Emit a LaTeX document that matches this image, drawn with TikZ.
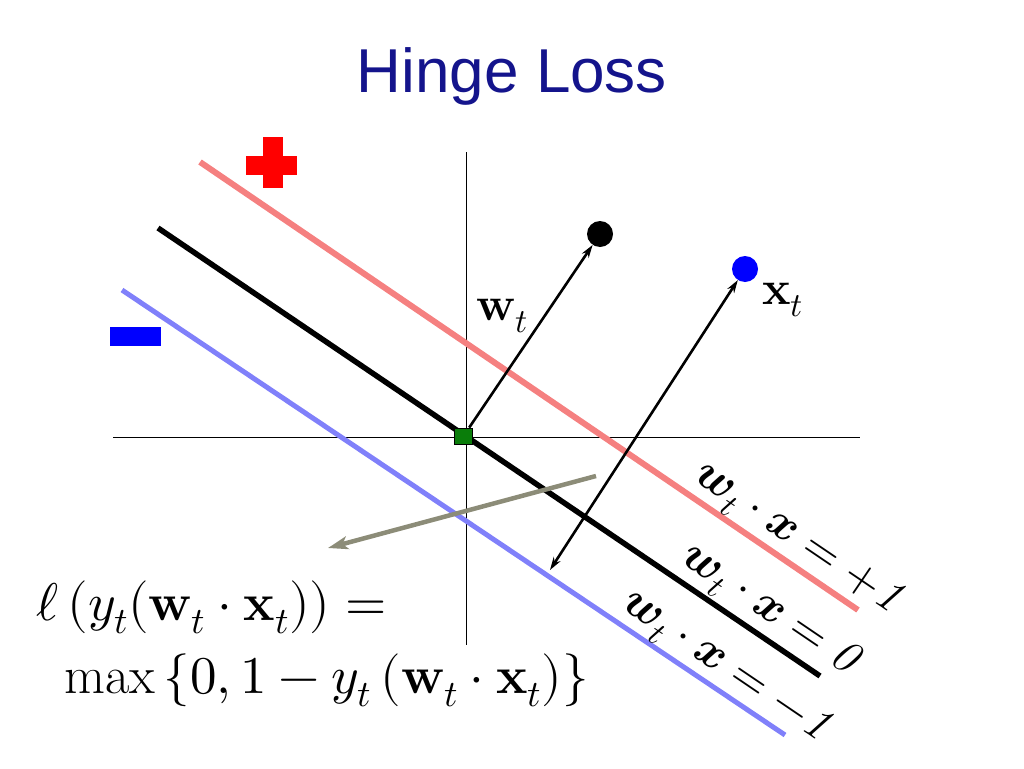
\documentclass[tikz,border=0pt]{standalone}
\usepackage{amsmath}
\usepackage{fontspec}
\usepackage{unicode-math}
\setmathfont{Latin Modern Math}
\newfontfamily\titlefont{Liberation Sans}
\usetikzlibrary{arrows.meta}
\definecolor{titleblue}{RGB}{20,20,140}
\definecolor{posred}{RGB}{245,128,128}
\definecolor{negblue}{RGB}{128,128,250}
\definecolor{arrowgray}{RGB}{140,140,120}
\definecolor{origgreen}{RGB}{10,125,10}
\tikzset{
  axis/.style={line width=1pt, black},
  margin/.style={line width=6pt},
  vecarrow/.style={line width=2.6pt, black, -{Stealth[length=13pt,width=8pt]}},
  dot/.style={circle, inner sep=0pt, minimum size=26pt},
  lbl/.style={inner sep=0pt, font=\fontsize{47}{53}\selectfont, rotate=-34.2},
  mathlbl/.style={inner sep=0pt, font=\fontsize{48}{54}\selectfont},
  formula/.style={inner sep=0pt, anchor=west, font=\fontsize{53}{60}\selectfont}
}
\begin{document}
\begin{tikzpicture}[x=1pt,y=-1pt]
\useasboundingbox (0,0) rectangle (1024,768);
% title
\node[text=titleblue, font=\titlefont\fontsize{62}{68}\selectfont] (title) at (512,76) {Hinge Loss};
% axes
\coordinate (yT) at (466,152);
\coordinate (yB) at (466,645);
\coordinate (xL) at (113,437);
\coordinate (xR) at (860,437);
\draw[axis] (yT) -- (yB);
\draw[axis] (xL) -- (xR);
% lines
\coordinate (rA) at (200,162);
\coordinate (rB) at (858,610);
\coordinate (kA) at (158,228);
\coordinate (kB) at (820,676);
\coordinate (bA) at (122,290);
\coordinate (bB) at (785,735);
\draw[margin, posred] (rA) -- (rB);
\draw[margin, negblue, line width=5pt] (bA) -- (bB);
\draw[margin, black, line width=5.5pt] (kA) -- (kB);
% plus and minus
\fill[red] (246,156) rectangle (297,175);
\fill[red] (263,137) rectangle (283,188);
\fill[blue] (110,327) rectangle (161,346);
% gray arrow
\coordinate (gS) at (596,476);
\coordinate (gE) at (328,548);
\draw[line width=4.5pt, arrowgray, -{Stealth[length=20pt,width=13pt,inset=5pt]}] (gS) -- (gE);
% origin and points
\node[draw=black, fill=origgreen, line width=0.8pt, minimum width=18pt, minimum height=16pt, inner sep=0pt] (o) at (463.5,436) {};
\node[dot, fill=black] (bd) at (600,234) {};
\node[dot, fill=blue] (xd) at (745,269) {};
\coordinate (xlow) at (550,570);
\draw[vecarrow] (o) -- (bd);
\draw[vecarrow, {Stealth[length=13pt,width=8pt]}-{Stealth[length=13pt,width=8pt]}] (xlow) -- (xd);
% labels
\node[mathlbl] (wl) at (502,316) {$\mathbf{w}_t$};
\node[mathlbl] (xl) at (783,300) {$\mathbf{x}_t$};
\node[lbl] (l1) at (797,539) {$\symbfit{w}_t\cdot\symbfit{x}=+\mathit{1}$};
\node[lbl] (l2) at (769,610) {$\symbfit{w}_t\cdot\symbfit{x}=\mathit{0}$};
\node[lbl] (l3) at (725,667) {$\symbfit{w}_t\cdot\symbfit{x}=-\mathit{1}$};
% formula
\node[formula] (f1) at (36,607) {$\ell\left(y_t(\mathbf{w}_t\cdot\mathbf{x}_t)\right)=$};
\node[formula] (f2) at (64,680) {$\max\left\{0,1-y_t\left(\mathbf{w}_t\cdot\mathbf{x}_t\right)\right\}$};
\end{tikzpicture}
\end{document}
